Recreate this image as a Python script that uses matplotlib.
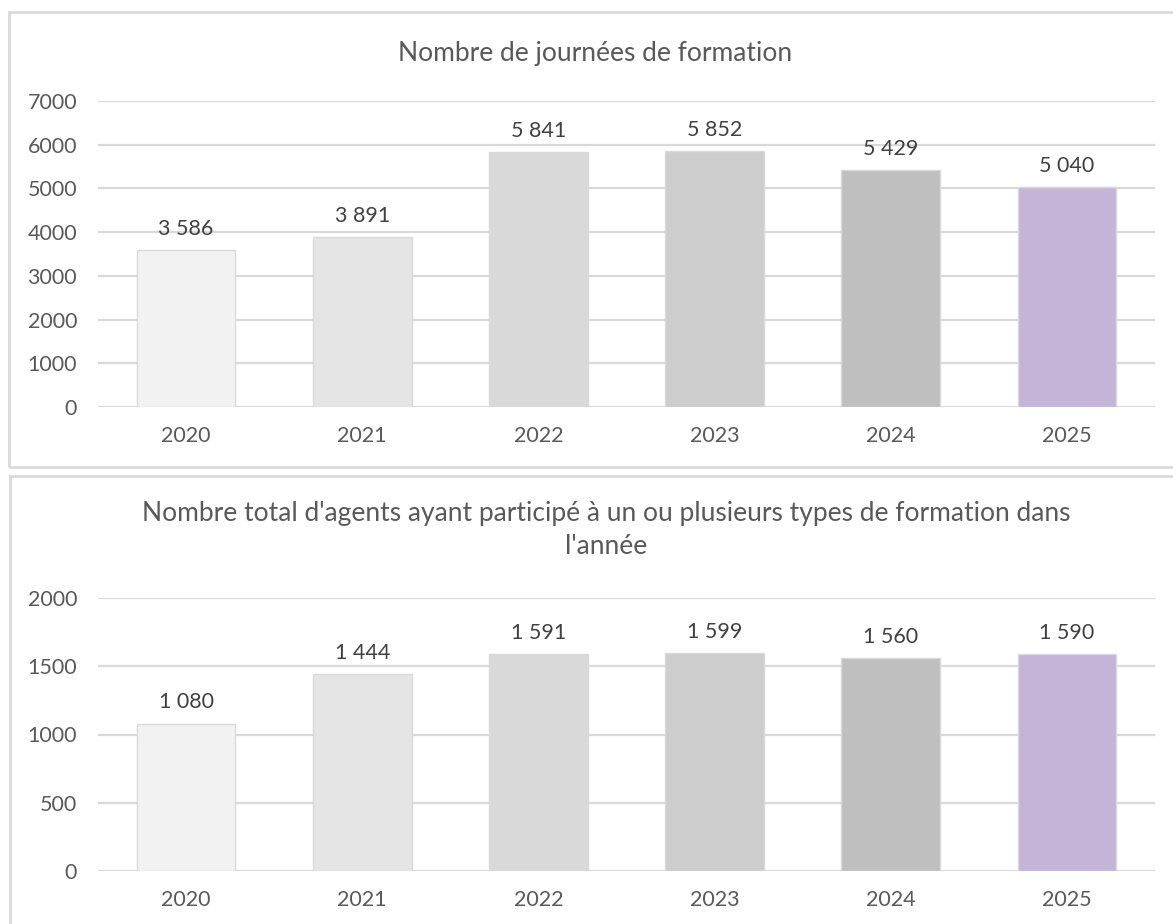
import matplotlib.pyplot as plt
from matplotlib.patches import Rectangle

years = ["2020", "2021", "2022", "2023", "2024", "2025"]
journees = [3586, 3891, 5841, 5852, 5429, 5040]
agents = [1080, 1444, 1591, 1599, 1560, 1590]
bar_colors = ["#f2f2f2", "#e5e5e5", "#d9d9d9", "#cdcdcd", "#bfbfbf", "#c4b4d8"]

plt.rcParams['font.family'] = ['Lato', 'DejaVu Sans']


def fmt(v):
    # French thousands separator
    return f"{v:,}".replace(",", " ")


def draw_bars(ax, values, ymax, step):
    x = range(len(years))
    ax.bar(x, values, width=0.56, color=bar_colors, edgecolor="#d9d9d9",
           linewidth=1, zorder=3)
    for i, v in zip(x, values):
        ax.annotate(fmt(v), xy=(i, v), xytext=(0, 8), textcoords="offset points",
                    ha="center", va="bottom", fontsize=15.5, color="#404040")
    ax.set_xlim(-0.5, len(years) - 0.5)
    ax.set_ylim(0, ymax)
    ax.set_yticks(range(0, ymax + 1, step))
    ax.set_xticks(list(x))
    ax.set_xticklabels(years)
    ax.grid(axis="y", color="#d9d9d9", linewidth=1.6, zorder=0)
    ax.set_axisbelow(True)
    for s in ax.spines.values():
        s.set_visible(False)
    ax.tick_params(length=0, labelsize=15.5, colors="#595959")
    ax.tick_params(axis="x", pad=14)
    ax.tick_params(axis="y", pad=15)


fig = plt.figure(figsize=(11.73, 9.24), dpi=100)

# chart frames
fig.patches.append(Rectangle((9 / 1173, 1 - 467 / 924), 1.2, 455 / 924,
                             transform=fig.transFigure, fill=False,
                             edgecolor="#d9d9d9", linewidth=2))
fig.patches.append(Rectangle((10 / 1173, -0.1), 1.2, 0.1 + 1 - 476 / 924,
                             transform=fig.transFigure, fill=False,
                             edgecolor="#d9d9d9", linewidth=2))

ax1 = fig.add_axes([98 / 1173, 1 - 407 / 924, 1057 / 1173, 306 / 924])
draw_bars(ax1, journees, 7000, 1000)
fig.text(595 / 1173, 1 - 53 / 924, "Nombre de journées de formation",
         ha="center", va="center", fontsize=19, color="#595959")

ax2 = fig.add_axes([98 / 1173, 1 - 871 / 924, 1057 / 1173, 273 / 924])
draw_bars(ax2, agents, 2000, 500)
fig.text(606 / 1173, 1 - 514 / 924,
         "Nombre total d'agents ayant participé à un ou plusieurs types de formation dans",
         ha="center", va="center", fontsize=19, color="#595959")
fig.text(606 / 1173, 1 - 547 / 924, "l'année",
         ha="center", va="center", fontsize=19, color="#595959")

fig.savefig("out.png", dpi=100)
